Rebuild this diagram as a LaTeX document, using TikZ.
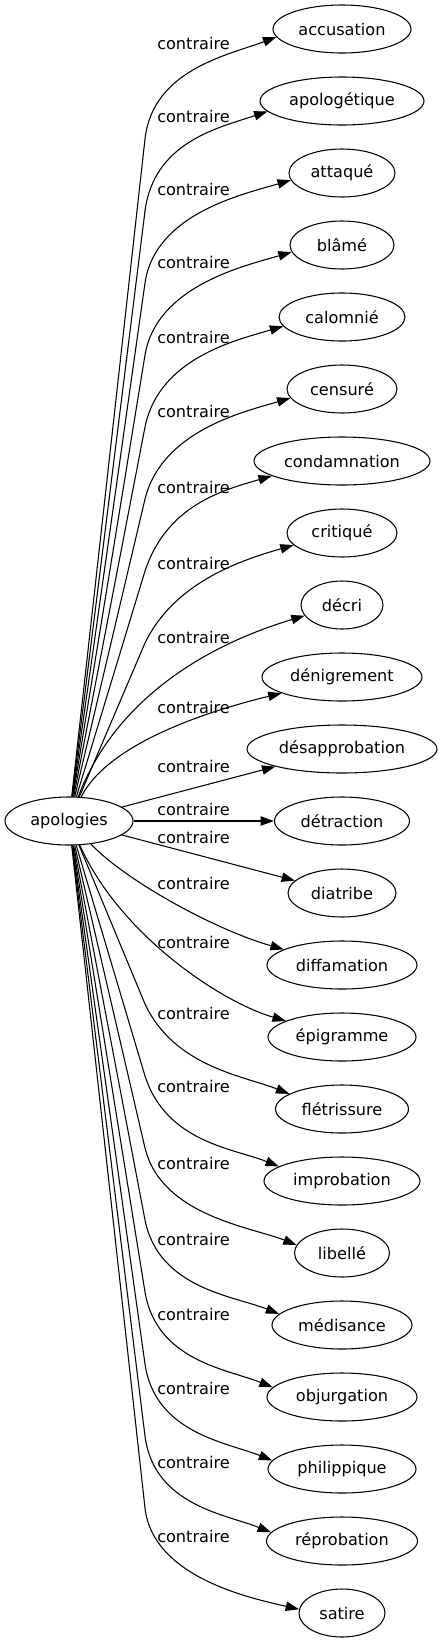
\documentclass[tikz,border=0pt]{standalone}
\usepackage{fontspec}
\setmainfont{DejaVu Sans}
\usetikzlibrary{calc,shapes.geometric,arrows.meta}
\begin{document}
\begin{tikzpicture}[x=0.75pt,y=-0.75pt,
  ent/.style={draw, ellipse, line width=0.8pt, inner sep=0pt, minimum height=36pt, font=\fontsize{12.1pt}{14pt}\selectfont},
  lbl/.style={inner sep=0pt, font=\fontsize{12.1pt}{14pt}\selectfont},
  rel/.style={draw, line width=0.8pt, -{Triangle[length=10pt,width=7pt]}}]
\useasboundingbox (0,0) rectangle (442,1643);
% nodes
\node[ent, minimum width=96pt] (apologies) at (69,821) {apologies};
\node[ent, minimum width=103.5pt] (accusation) at (342,29) {accusation};
\node[ent, minimum width=123pt] (apologetique) at (342,101) {apologétique};
\node[ent, minimum width=79.5pt] (attaque) at (342,173) {attaqué};
\node[ent, minimum width=78pt] (blame) at (342,245) {blâmé};
\node[ent, minimum width=94.5pt] (calomnie) at (342,317) {calomnié};
\node[ent, minimum width=82.5pt] (censure) at (342,389) {censuré};
\node[ent, minimum width=132pt] (condamnation) at (342,461) {condamnation};
\node[ent, minimum width=82.5pt] (critique) at (342,533) {critiqué};
\node[ent, minimum width=61.5pt] (decri) at (342,605) {décri};
\node[ent, minimum width=120pt] (denigrement) at (342,677) {dénigrement};
\node[ent, minimum width=142.5pt] (desapprobation) at (342,749) {désapprobation};
\node[ent, minimum width=101.25pt] (detraction) at (342,821) {détraction};
\node[ent, minimum width=81pt] (diatribe) at (342,893) {diatribe};
\node[ent, minimum width=112.5pt] (diffamation) at (342,965) {diffamation};
\node[ent, minimum width=111pt] (epigramme) at (342,1037) {épigramme};
\node[ent, minimum width=99.75pt] (fletrissure) at (342,1109) {flétrissure};
\node[ent, minimum width=117pt] (improbation) at (342,1181) {improbation};
\node[ent, minimum width=71.25pt] (libelle) at (342,1253) {libellé};
\node[ent, minimum width=105pt] (medisance) at (342,1325) {médisance};
\node[ent, minimum width=112.5pt] (objurgation) at (342,1397) {objurgation};
\node[ent, minimum width=111pt] (philippique) at (342,1469) {philippique};
\node[ent, minimum width=113.25pt] (reprobation) at (342,1541) {réprobation};
\node[ent, minimum width=64.5pt] (satire) at (342,1613) {satire};
% labels
\node[lbl] (l1) at (193.5,43) {contraire};
\node[lbl] (l2) at (193.5,116) {contraire};
\node[lbl] (l3) at (193.5,189) {contraire};
\node[lbl] (l4) at (193.5,262) {contraire};
\node[lbl] (l5) at (193.5,337) {contraire};
\node[lbl] (l6) at (193.5,411) {contraire};
\node[lbl] (l7) at (193.5,487) {contraire};
\node[lbl] (l8) at (193.5,563) {contraire};
\node[lbl] (l9) at (193.5,637) {contraire};
\node[lbl] (l10) at (193.5,707) {contraire};
\node[lbl] (l11) at (193.5,766) {contraire};
\node[lbl] (l12) at (193.5,809) {contraire};
\node[lbl] (l13) at (193.5,837) {contraire};
\node[lbl] (l14) at (193.5,883) {contraire};
\node[lbl] (l15) at (193.5,942) {contraire};
\node[lbl] (l16) at (193.5,1013) {contraire};
\node[lbl] (l17) at (193.5,1086) {contraire};
\node[lbl] (l18) at (193.5,1163) {contraire};
\node[lbl] (l19) at (193.5,1239) {contraire};
\node[lbl] (l20) at (193.5,1314) {contraire};
\node[lbl] (l21) at (193.5,1388) {contraire};
\node[lbl] (l22) at (193.5,1462) {contraire};
\node[lbl] (l23) at (193.5,1536) {contraire};
% edges
\draw[rel] (apologies) -- (145,139) .. controls (152.9,69.5) and ($(accusation.187)+(-48,18)$) .. (accusation.187);
\draw[rel] (apologies) -- (145,211) .. controls (153.9,141.6) and ($(apologetique.188)+(-48,16)$) .. (apologetique.188);
\draw[rel] (apologies) -- (145,283) .. controls (155.1,213.7) and ($(attaque.188)+(-48,14)$) .. (attaque.188);
\draw[rel] (apologies) -- (145,355) .. controls (156.7,286) and ($(blame.188)+(-48,14)$) .. (blame.188);
\draw[rel] (apologies) -- (145,427) .. controls (158.9,358.4) and ($(calomnie.189)+(-48,14)$) .. (calomnie.189);
\draw[rel] (apologies) -- (145,499) .. controls (162.1,431.1) and ($(censure.190)+(-48,14)$) .. (censure.190);
\draw[rel] (apologies) -- (145,571) .. controls (167,504.6) and ($(condamnation.192)+(-48,14)$) .. (condamnation.192);
\draw[rel] (apologies) -- (145,643) .. controls (175.6,580) and ($(critique.194)+(-48,14)$) .. (critique.194);
\draw[rel] (apologies) .. controls (115,700) and ($(decri.196)+(-100,30)$) .. (decri.196);
\draw[rel] (apologies) .. controls (110,740) and ($(denigrement.195)+(-62,15)$) .. (denigrement.195);
\draw[rel] (apologies) -- (desapprobation);
\draw[rel] (apologies) -- (detraction);
\draw[rel] (apologies) -- (diatribe);
\draw[rel] (apologies) .. controls (125,880) and ($(diffamation.165)+(-70,-20)$) .. (diffamation.165);
\draw[rel] (apologies) .. controls (120,935) and ($(epigramme.164)+(-65,-19)$) .. (epigramme.164);
\draw[rel] (apologies) -- (145,1004) .. controls (174.9,1067.3) and ($(fletrissure.164)+(-45,-18)$) .. (fletrissure.164);
\draw[rel] (apologies) -- (145,1076) .. controls (166.6,1142.6) and ($(improbation.167)+(-45,-18)$) .. (improbation.167);
\draw[rel] (apologies) -- (145,1148) .. controls (161.8,1216) and ($(libelle.170)+(-45,-18)$) .. (libelle.170);
\draw[rel] (apologies) -- (145,1220) .. controls (158.7,1288.7) and ($(medisance.170)+(-45,-18)$) .. (medisance.170);
\draw[rel] (apologies) -- (145,1292) .. controls (156.6,1361) and ($(objurgation.172)+(-45,-18)$) .. (objurgation.172);
\draw[rel] (apologies) -- (145,1364) .. controls (155,1433.3) and ($(philippique.173)+(-45,-18)$) .. (philippique.173);
\draw[rel] (apologies) -- (145,1436) .. controls (153.8,1505.4) and ($(reprobation.173)+(-45,-18)$) .. (reprobation.173);
\draw[rel] (apologies) -- (145,1508) .. controls (153,1577.5) and ($(satire.175)+(-48,-11)$) .. (satire.175);
\end{tikzpicture}
\end{document}
